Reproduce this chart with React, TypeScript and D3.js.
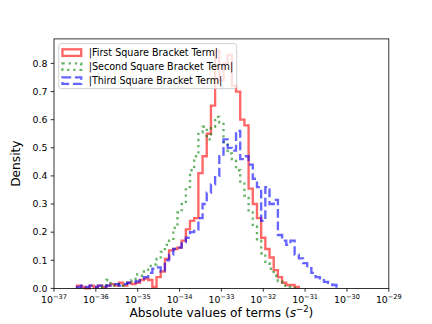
import React from 'react'
import * as d3 from 'd3'

const width = 432
const height = 324
const margin = {left: 54, right: 388.8, top: 38.9, bottom: 288.4}

// histogram bins on log10 scale, 0.1 decade wide
const binWidth = 0.1
const redStart = -36.45
const redDensity = [0.01, 0.005, 0, 0.01, 0.005, 0.01, 0.005, 0.01, 0.015, 0.01, 0.02, 0.01, 0.02, 0.015, 0.02,
  0.03, 0.035, 0.03, 0.005, 0.04, 0.06, 0.105, 0.135, 0.14, 0.145, 0.17, 0.21, 0.24, 0.25, 0.41,
  0.47, 0.55, 0.65, 0.845, 0.74, 0.8, 0.83, 0.72, 0.7, 0.6, 0.58, 0.355, 0.3, 0.25, 0.18,
  0.14, 0.11, 0.065, 0.04, 0.02, 0.012, 0.012, 0.005]
const greenStart = -35.85
const greenDensity = [0.005, 0.03, 0.01, 0.01, 0.015, 0.01, 0.025, 0.03, 0.05, 0.045, 0.06, 0.08, 0.085,
  0.105, 0.13, 0.155, 0.17, 0.215, 0.27, 0.3, 0.36, 0.42, 0.47, 0.555, 0.575, 0.53, 0.575, 0.61,
  0.59, 0.52, 0.48, 0.46, 0.42, 0.38, 0.33, 0.27, 0.22, 0.17, 0.125, 0.09, 0.07, 0.045, 0.025,
  0.01, 0.005, 0.003]
const blueStart = -36.45
const blueDensity = [0.005, 0.01, 0.005, 0.01, 0.005, 0.01, 0.005, 0.01, 0.015, 0.015, 0.01, 0.015, 0.02,
  0.02, 0.025, 0.035, 0.04, 0.055, 0.07, 0.075, 0.06, 0.1, 0.12, 0.14, 0.145, 0.165, 0.18, 0.2,
  0.21, 0.25, 0.3, 0.34, 0.37, 0.4, 0.47, 0.53, 0.5, 0.49, 0.56, 0.46, 0.47, 0.44, 0.39, 0.36,
  0.24, 0.36, 0.3, 0.315, 0.19, 0.17, 0.155, 0.17, 0.12, 0.107, 0.09, 0.072, 0.055, 0.04, 0.036,
  0.023, 0.02, 0.012]

const xTickExps = [-37, -36, -35, -34, -33, -32, -31, -30, -29]
const yTicks = [0.0, 0.1, 0.2, 0.3, 0.4, 0.5, 0.6, 0.7, 0.8]

const series = [
  {label: '|First Square Bracket Term|', start: redStart, values: redDensity, color: '#ff0000', dash: 'none'},
  {label: '|Second Square Bracket Term|', start: greenStart, values: greenDensity, color: '#008000', dash: '2.3 3.9'},
  {label: '|Third Square Bracket Term|', start: blueStart, values: blueDensity, color: '#0000ff', dash: '8.7 3.75'},
]

const font = 'DejaVu Sans'
const lw = 2.34

export default function App() {
  const yMax = d3.max(series.flatMap(s => s.values)) * 1.05
  const x = d3.scaleLog().domain([1e-37, 1e-29]).range([margin.left, margin.right])
  const y = d3.scaleLinear().domain([0, yMax]).range([margin.bottom, margin.top])

  const stepPath = (s) => {
    const pts = [[s.start, 0]]
    s.values.forEach((v, i) => {
      pts.push([s.start + i * binWidth, v])
      pts.push([s.start + (i + 1) * binWidth, v])
    })
    pts.push([s.start + s.values.length * binWidth, 0])
    return d3.line().x(p => x(Math.pow(10, p[0]))).y(p => y(p[1]))(pts)
  }

  const legX = margin.left + 4.7
  const legY = margin.top + 4.7
  const rowH = 14

  return (
    <svg width={width} height={height} style={{position: 'absolute', left: 0, top: 0}} fontFamily={font}>
      <rect x={0} y={0} width={width} height={height} fill='white' />
      <g>
        {series.map(s => (
          <path key={s.label} d={stepPath(s)} fill='none' stroke={s.color} strokeOpacity={0.6}
            strokeWidth={lw} strokeDasharray={s.dash} strokeLinejoin='miter' />
        ))}
      </g>
      {/* axes frame */}
      <rect x={margin.left} y={margin.top} width={margin.right - margin.left} height={margin.bottom - margin.top}
        fill='none' stroke='black' strokeWidth={0.8} />
      {/* x ticks */}
      {xTickExps.map(e => (
        <g key={e} transform={`translate(${x(Math.pow(10, e))},${margin.bottom})`}>
          <line y2={3.3} stroke='black' strokeWidth={0.8} />
          <text y={14.2} textAnchor='middle' fontSize={9.4} fill='black'>
            10<tspan dy={-3.8} fontSize={6.6}>{'\u2212' + Math.abs(e)}</tspan>
          </text>
        </g>
      ))}
      {/* y ticks */}
      {yTicks.map(t => (
        <g key={t} transform={`translate(${margin.left},${y(t)})`}>
          <line x2={-3.3} stroke='black' strokeWidth={0.8} />
          <text x={-6.6} dy='0.35em' textAnchor='end' fontSize={9.4} fill='black'>{t.toFixed(1)}</text>
        </g>
      ))}
      <text x={(margin.left + margin.right) / 2} y={317} textAnchor='middle' fontSize={12.2} fill='black'>
        Absolute values of terms (<tspan fontStyle='italic'>s</tspan><tspan dy={-4.8} fontSize={8.5}>{'\u22122'}</tspan><tspan dy={4.8}>)</tspan>
      </text>
      <text transform={`translate(20,${(margin.top + margin.bottom) / 2}) rotate(-90)`} textAnchor='middle'
        fontSize={12.2} fill='black'>Density</text>
      {/* legend */}
      <rect x={legX} y={legY} width={178} height={3 * rowH + 3} rx={2.5} fill='white' fillOpacity={0.8}
        stroke='#cccccc' strokeWidth={0.9} />
      {series.map((s, i) => {
        const cy = legY + 9 + i * rowH
        return (
          <g key={s.label}>
            <rect x={legX + 3.75} y={cy - 3.3} width={18.75} height={6.6} fill='none' stroke={s.color}
              strokeOpacity={0.6} strokeWidth={lw} strokeDasharray={s.dash} />
            <text x={legX + 30} y={cy} dy='0.35em' fontSize={9.6} fill='black'>{s.label}</text>
          </g>
        )
      })}
    </svg>
  )
}
